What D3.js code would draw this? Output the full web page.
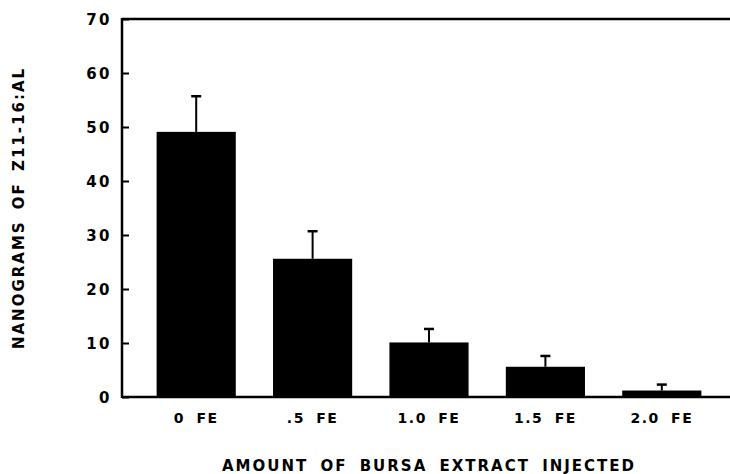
<!DOCTYPE html>
<html>
<head>
<meta charset="utf-8">
<script src="https://cdn.jsdelivr.net/npm/d3@7"></script>
<style>
  body { margin: 0; background: #fff; }
  text { font-family: "DejaVu Sans", sans-serif; font-weight: bold; fill: #000; }
</style>
</head>
<body>
<div id="chart"></div>
<script>
// data
var doses = ["0 FE", ".5 FE", "1.0 FE", "1.5 FE", "2.0 FE"];
var means = [49.1, 25.6, 10.1, 5.6, 1.2];
var errTops = [55.7, 30.7, 12.6, 7.6, 2.3];
var yTicks = [0, 10, 20, 30, 40, 50, 60, 70];

var margin = {top: 19, right: 0, bottom: 77, left: 122},
    width = 730 - margin.left - margin.right,
    height = 474 - margin.top - margin.bottom;

var svg = d3.select("#chart")
    .append("svg")
    .attr("width", 730)
    .attr("height", 474)
    .append("g")
    .attr("transform", "translate(" + margin.left + "," + margin.top + ")");

var x = d3.scaleBand()
    .domain(doses)
    .range([16, 598])
    .paddingInner(0.32)
    .paddingOuter(0.16);

var y = d3.scaleLinear()
    .domain([0, 70])
    .range([height, 0]);

// bars
svg.selectAll(".bar")
    .data(doses)
    .enter()
    .append("rect")
    .attr("x", function(d) { return x(d); })
    .attr("y", function(d, i) { return y(means[i]); })
    .attr("width", x.bandwidth())
    .attr("height", function(d, i) { return height - y(means[i]); })
    .attr("fill", "#000");

// error bars (upper only)
var err = svg.append("g").attr("stroke", "#000").attr("stroke-width", 2);
doses.forEach(function(d, i) {
    var cx = x(d) + x.bandwidth() / 2;
    err.append("line")
        .attr("x1", cx).attr("x2", cx)
        .attr("y1", y(means[i])).attr("y2", y(errTops[i]));
    err.append("line")
        .attr("x1", cx - 5).attr("x2", cx + 5)
        .attr("y1", y(errTops[i])).attr("y2", y(errTops[i]))
        .attr("stroke-width", 2.5);
});

// Y axis, ticks inside
var yAxis = svg.append("g")
    .call(d3.axisLeft(y).tickValues(yTicks).tickSize(-7).tickPadding(10));
yAxis.select(".domain").remove();
yAxis.selectAll(".tick line").attr("stroke", "#000").attr("stroke-width", 2);
yAxis.selectAll("text").style("font-size", "15px").style("letter-spacing", "2.5px").attr("dy", "0.36em");

// frame lines: left, top, bottom
svg.append("line").attr("x1", 0).attr("x2", 0).attr("y1", -1).attr("y2", height + 1)
    .attr("stroke", "#000").attr("stroke-width", 2.5);
svg.append("line").attr("x1", 0).attr("x2", width).attr("y1", 0).attr("y2", 0)
    .attr("stroke", "#000").attr("stroke-width", 2.5);
svg.append("line").attr("x1", 0).attr("x2", width).attr("y1", height).attr("y2", height)
    .attr("stroke", "#000").attr("stroke-width", 2.5);

// X labels
var xAxis = svg.append("g")
    .attr("transform", "translate(0," + height + ")")
    .call(d3.axisBottom(x).tickSize(0).tickPadding(16));
xAxis.select(".domain").remove();
xAxis.selectAll("text").style("font-size", "14px").style("letter-spacing", "1.5px").style("word-spacing", "5px");

// axis titles
svg.append("text")
    .attr("text-anchor", "middle")
    .attr("x", 429 - margin.left)
    .attr("y", height + 74)
    .style("font-size", "15px")
    .style("letter-spacing", "2px")
    .style("word-spacing", "5px")
    .text("AMOUNT OF BURSA EXTRACT INJECTED");

svg.append("text")
    .attr("text-anchor", "middle")
    .attr("transform", "rotate(-90)")
    .attr("x", -(208 - margin.top))
    .attr("y", -margin.left + 24)
    .style("font-size", "15px")
    .style("letter-spacing", "2px")
    .style("word-spacing", "4px")
    .text("NANOGRAMS OF Z11-16:AL");
</script>
</body>
</html>
